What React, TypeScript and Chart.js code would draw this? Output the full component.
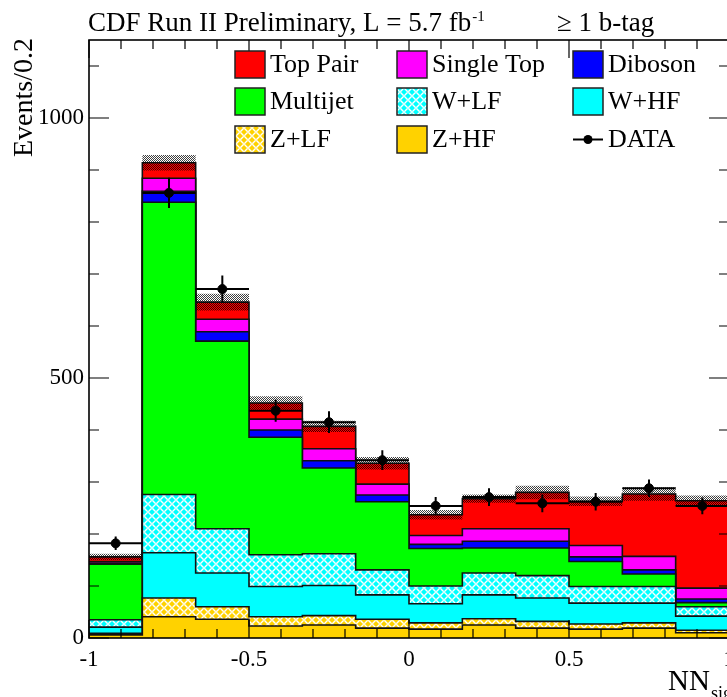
import React, { useEffect, useRef } from 'react';
import { Chart, registerables } from 'chart.js';

Chart.register(...registerables);

// ---------------- data ----------------
const binEdges = [-1, -0.8333, -0.6667, -0.5, -0.3333, -0.1667, 0, 0.1667, 0.3333, 0.5, 0.6667, 0.8333, 1];

const zHF = [6, 41, 36, 23, 25, 19, 17, 25, 19, 17, 19, 10];
const zLF = [3, 36, 24, 18, 18, 17, 12, 12, 13, 10, 10, 5];
const wHF = [12, 87, 65, 58, 58, 47, 37, 46, 45, 40, 38, 27];
const wLF = [14, 112, 85, 61, 61, 48, 34, 42, 43, 32, 32, 18];
const multijet = [107, 562, 361, 226, 165, 131, 72, 48, 53, 48, 24, 8];
const diboson = [2, 21, 18, 14, 14, 13, 8, 13, 13, 9, 8, 7];
const singleTop = [3, 25, 24, 21, 23, 21, 17, 24, 24, 22, 26, 21];
const topPair = [9, 30, 33, 31, 43, 40, 40, 58, 70, 85, 120, 168];
const mcUncert = [6, 15, 16, 13, 11, 12, 9, 8, 13, 9, 13, 10];

const dataVals = [182, 856, 671, 437, 415, 342, 254, 271, 259, 262, 288, 254];
const dataErr = [13, 29, 26, 21, 21, 19, 17, 17, 17, 17, 17, 16];

const xTickLabels = ['-1', '-0.5', '0', '0.5', '1'];
const xTickValues = [-1, -0.5, 0, 0.5, 1];
const yTickValues = [0, 500, 1000];

const SERIF = '"Liberation Serif", "Times New Roman", Times, serif';

const CANVAS_W = 760;
const CANVAS_H = 697;

const COLORS = {
  zHF: '#ffd200',
  zLF: '#ffd200',
  wHF: '#00ffff',
  wLF: '#00ffff',
  multijet: '#00ff00',
  diboson: '#0000ff',
  singleTop: '#ff00ff',
  topPair: '#ff0000',
};

function makeWeave(bg: string): CanvasPattern | string {
  const c = document.createElement('canvas');
  c.width = 8;
  c.height = 8;
  const g = c.getContext('2d');
  if (!g) return bg;
  g.fillStyle = bg;
  g.fillRect(0, 0, 8, 8);
  g.strokeStyle = '#ffffff';
  g.lineWidth = 1.4;
  g.beginPath();
  g.moveTo(0.3, 3.7); g.lineTo(3.7, 0.3);
  g.moveTo(4.3, 0.3); g.lineTo(7.7, 3.7);
  g.moveTo(0.3, 4.3); g.lineTo(3.7, 7.7);
  g.moveTo(4.3, 7.7); g.lineTo(7.7, 4.3);
  g.stroke();
  const p = g.createPattern(c, 'repeat');
  return p || bg;
}

function makeChecker(): CanvasPattern | string {
  const c = document.createElement('canvas');
  c.width = 2;
  c.height = 2;
  const g = c.getContext('2d');
  if (!g) return 'rgba(0,0,0,0.45)';
  g.fillStyle = 'rgba(0,0,0,0.75)';
  g.fillRect(0, 0, 1, 1);
  g.fillRect(1, 1, 1, 1);
  const p = g.createPattern(c, 'repeat');
  return p || 'rgba(0,0,0,0.45)';
}

function stepPoints(vals: number[]) {
  return binEdges.map((x, i) => ({ x, y: vals[Math.min(i, vals.length - 1)] }));
}

export default function App() {
  const ref = useRef<HTMLCanvasElement | null>(null);

  useEffect(() => {
    const canvas = ref.current;
    if (!canvas) return;

    const wlfPat = makeWeave(COLORS.wLF);
    const zlfPat = makeWeave(COLORS.zLF);
    const checker = makeChecker();

    const layers: { name: string; vals: number[]; bg: any }[] = [
      { name: 'Z+HF', vals: zHF, bg: COLORS.zHF },
      { name: 'Z+LF', vals: zLF, bg: zlfPat },
      { name: 'W+HF', vals: wHF, bg: COLORS.wHF },
      { name: 'W+LF', vals: wLF, bg: wlfPat },
      { name: 'Multijet', vals: multijet, bg: COLORS.multijet },
      { name: 'Diboson', vals: diboson, bg: COLORS.diboson },
      { name: 'Single Top', vals: singleTop, bg: COLORS.singleTop },
      { name: 'Top Pair', vals: topPair, bg: COLORS.topPair },
    ];

    let run = new Array(binEdges.length - 1).fill(0);
    const stackSets: any[] = layers.map((l, k) => {
      run = run.map((v: number, i: number) => v + l.vals[i]);
      return {
        label: l.name,
        data: stepPoints(run.slice()),
        stepped: true,
        borderColor: '#111',
        borderWidth: 1.6,
        backgroundColor: l.bg,
        pointRadius: 0,
        fill: k === 0 ? 'origin' : '-1',
        order: 10,
      };
    });
    const total = run.slice();

    const bandLow = {
      label: 'bandLow',
      data: stepPoints(total.map((v: number, i: number) => v - mcUncert[i])),
      stepped: true,
      borderWidth: 0,
      borderColor: 'rgba(0,0,0,0)',
      pointRadius: 0,
      fill: false,
      order: 5,
    };
    const bandHigh = {
      label: 'bandHigh',
      data: stepPoints(total.map((v: number, i: number) => v + mcUncert[i])),
      stepped: true,
      borderWidth: 0,
      borderColor: 'rgba(0,0,0,0)',
      backgroundColor: checker,
      pointRadius: 0,
      fill: '-1',
      order: 5,
    };

    const centers = binEdges.slice(0, -1).map((e, i) => (e + binEdges[i + 1]) / 2);
    const hBars: any[] = [];
    const vBars: any[] = [];
    centers.forEach((c, i) => {
      hBars.push({ x: binEdges[i], y: dataVals[i] }, { x: binEdges[i + 1], y: dataVals[i] }, { x: binEdges[i + 1], y: null });
      vBars.push({ x: c, y: dataVals[i] - dataErr[i] }, { x: c, y: dataVals[i] + dataErr[i] }, { x: c, y: null });
    });

    const dataSets: any[] = [
      {
        label: 'dataH',
        data: hBars,
        borderColor: '#000',
        borderWidth: 2,
        pointRadius: 0,
        fill: false,
        order: 0,
      },
      {
        label: 'dataV',
        data: vBars,
        borderColor: '#000',
        borderWidth: 2,
        pointRadius: 0,
        fill: false,
        order: 0,
      },
      {
        label: 'DATA',
        data: centers.map((c, i) => ({ x: c, y: dataVals[i] })),
        showLine: false,
        pointRadius: 4.5,
        pointBackgroundColor: '#000',
        pointBorderColor: '#000',
        borderColor: '#000',
        fill: false,
        order: 0,
      },
    ];

    const frameTicks = {
      id: 'frameTicks',
      afterDatasetsDraw(chart: any) {
        const { ctx, chartArea: a, scales } = chart;
        const xs = scales.x;
        const ys = scales.y;
        ctx.save();
        ctx.strokeStyle = '#000';
        ctx.lineWidth = 1.2;
        ctx.beginPath();
        for (let k = -10; k <= 10; k++) {
          const v = k / 10;
          const px = xs.getPixelForValue(v);
          const L = k % 5 === 0 ? 18 : 9;
          ctx.moveTo(px, a.bottom);
          ctx.lineTo(px, a.bottom - L);
          ctx.moveTo(px, a.top);
          ctx.lineTo(px, a.top + L);
        }
        for (let k = 0; k <= 11; k++) {
          const v = k * 100;
          const py = ys.getPixelForValue(v);
          const L = k % 5 === 0 ? 20 : 10;
          ctx.moveTo(a.left, py);
          ctx.lineTo(a.left + L, py);
          ctx.moveTo(a.right, py);
          ctx.lineTo(a.right - L, py);
        }
        ctx.stroke();
        ctx.lineWidth = 1.6;
        ctx.strokeRect(a.left, a.top, a.right - a.left, a.bottom - a.top);
        ctx.restore();
      },
    };

    const legendEntries: { text: string; bg: any; col: number; row: number; data?: boolean }[] = [
      { text: 'Top Pair', bg: COLORS.topPair, col: 0, row: 0 },
      { text: 'Single Top', bg: COLORS.singleTop, col: 1, row: 0 },
      { text: 'Diboson', bg: COLORS.diboson, col: 2, row: 0 },
      { text: 'Multijet', bg: COLORS.multijet, col: 0, row: 1 },
      { text: 'W+LF', bg: wlfPat, col: 1, row: 1 },
      { text: 'W+HF', bg: COLORS.wHF, col: 2, row: 1 },
      { text: 'Z+LF', bg: zlfPat, col: 0, row: 2 },
      { text: 'Z+HF', bg: COLORS.zHF, col: 1, row: 2 },
      { text: 'DATA', bg: '#000', col: 2, row: 2, data: true },
    ];

    const texts = {
      id: 'texts',
      afterDraw(chart: any) {
        const { ctx } = chart;
        ctx.save();
        ctx.fillStyle = '#000';
        ctx.textBaseline = 'alphabetic';
        ctx.textAlign = 'left';
        // title
        ctx.font = `27px ${SERIF}`;
        const t1 = 'CDF Run II Preliminary, L = 5.7 fb';
        ctx.fillText(t1, 88, 31);
        const w1 = ctx.measureText(t1).width;
        ctx.font = `15px ${SERIF}`;
        ctx.fillText('-1', 88 + w1 + 1, 21);
        ctx.font = `27px ${SERIF}`;
        ctx.fillText('\u2265 1 b-tag', 557, 31);

        // legend
        const colX = [235, 397, 573];
        const rowY = [64.5, 101.5, 139.5];
        const bw = 30;
        const bh = 27;
        ctx.font = `26px ${SERIF}`;
        legendEntries.forEach((e) => {
          const x0 = colX[e.col];
          const yc = rowY[e.row];
          if (e.data) {
            ctx.strokeStyle = '#000';
            ctx.lineWidth = 2;
            ctx.beginPath();
            ctx.moveTo(x0, yc);
            ctx.lineTo(x0 + bw, yc);
            ctx.stroke();
            ctx.beginPath();
            ctx.arc(x0 + bw / 2, yc, 4.5, 0, Math.PI * 2);
            ctx.fillStyle = '#000';
            ctx.fill();
          } else {
            ctx.fillStyle = e.bg;
            ctx.fillRect(x0, yc - bh / 2, bw, bh);
            ctx.strokeStyle = '#222';
            ctx.lineWidth = 1.5;
            ctx.strokeRect(x0, yc - bh / 2, bw, bh);
          }
          ctx.fillStyle = '#000';
          ctx.textBaseline = 'middle';
          ctx.fillText(e.text, x0 + bw + 5, yc + 1);
        });

        // y title
        ctx.save();
        ctx.translate(32, 38);
        ctx.rotate(-Math.PI / 2);
        ctx.textAlign = 'right';
        ctx.textBaseline = 'alphabetic';
        ctx.font = `28px ${SERIF}`;
        ctx.fillText('Events/0.2', 0, 0);
        ctx.restore();

        // x title
        ctx.textAlign = 'left';
        ctx.textBaseline = 'alphabetic';
        ctx.font = `29px ${SERIF}`;
        ctx.fillText('NN', 668, 690);
        const wn = ctx.measureText('NN').width;
        ctx.font = `18px ${SERIF}`;
        ctx.fillText('sig', 668 + wn + 1, 699);
        ctx.restore();
      },
    };

    const chart = new Chart(canvas, {
      type: 'line',
      data: { datasets: [...stackSets, bandLow, bandHigh, ...dataSets] as any },
      options: {
        animation: false,
        responsive: false,
        events: [],
        layout: { padding: { top: 40, right: CANVAS_W - 729, bottom: 0, left: 0 } },
        plugins: {
          legend: { display: false },
          tooltip: { enabled: false },
          title: { display: false },
        },
        scales: {
          x: {
            type: 'linear',
            min: -1,
            max: 1,
            afterBuildTicks: (s: any) => {
              s.ticks = xTickValues.map((v) => ({ value: v }));
            },
            ticks: {
              autoSkip: false,
              maxRotation: 0,
              padding: 8,
              color: '#000',
              font: { family: SERIF, size: 23 },
              callback: (v: any) => {
                const i = xTickValues.indexOf(Number(v));
                return i >= 0 ? xTickLabels[i] : '';
              },
            },
            grid: { display: false, drawTicks: false },
            border: { display: false },
            afterFit: (s: any) => {
              s.height = 59;
              s.paddingLeft = 0;
              s.paddingRight = 0;
            },
          },
          y: {
            type: 'linear',
            min: 0,
            max: 1150,
            afterBuildTicks: (s: any) => {
              s.ticks = yTickValues.map((v) => ({ value: v }));
            },
            ticks: {
              padding: 5,
              color: '#000',
              font: { family: SERIF, size: 23 },
              callback: (v: any) => String(v),
            },
            grid: { display: false, drawTicks: false },
            border: { display: false },
            afterFit: (s: any) => {
              s.width = 89;
              s.paddingTop = 0;
              s.paddingBottom = 0;
            },
          },
        },
      } as any,
      plugins: [frameTicks, texts],
    });

    return () => chart.destroy();
  }, []);

  return (
    <div style={{ position: 'fixed', left: 0, top: 0, width: 727, height: 697, overflow: 'hidden', background: '#fff' }}>
      <canvas ref={ref} width={CANVAS_W} height={CANVAS_H} style={{ display: 'block', width: CANVAS_W, height: CANVAS_H }} />
    </div>
  );
}
